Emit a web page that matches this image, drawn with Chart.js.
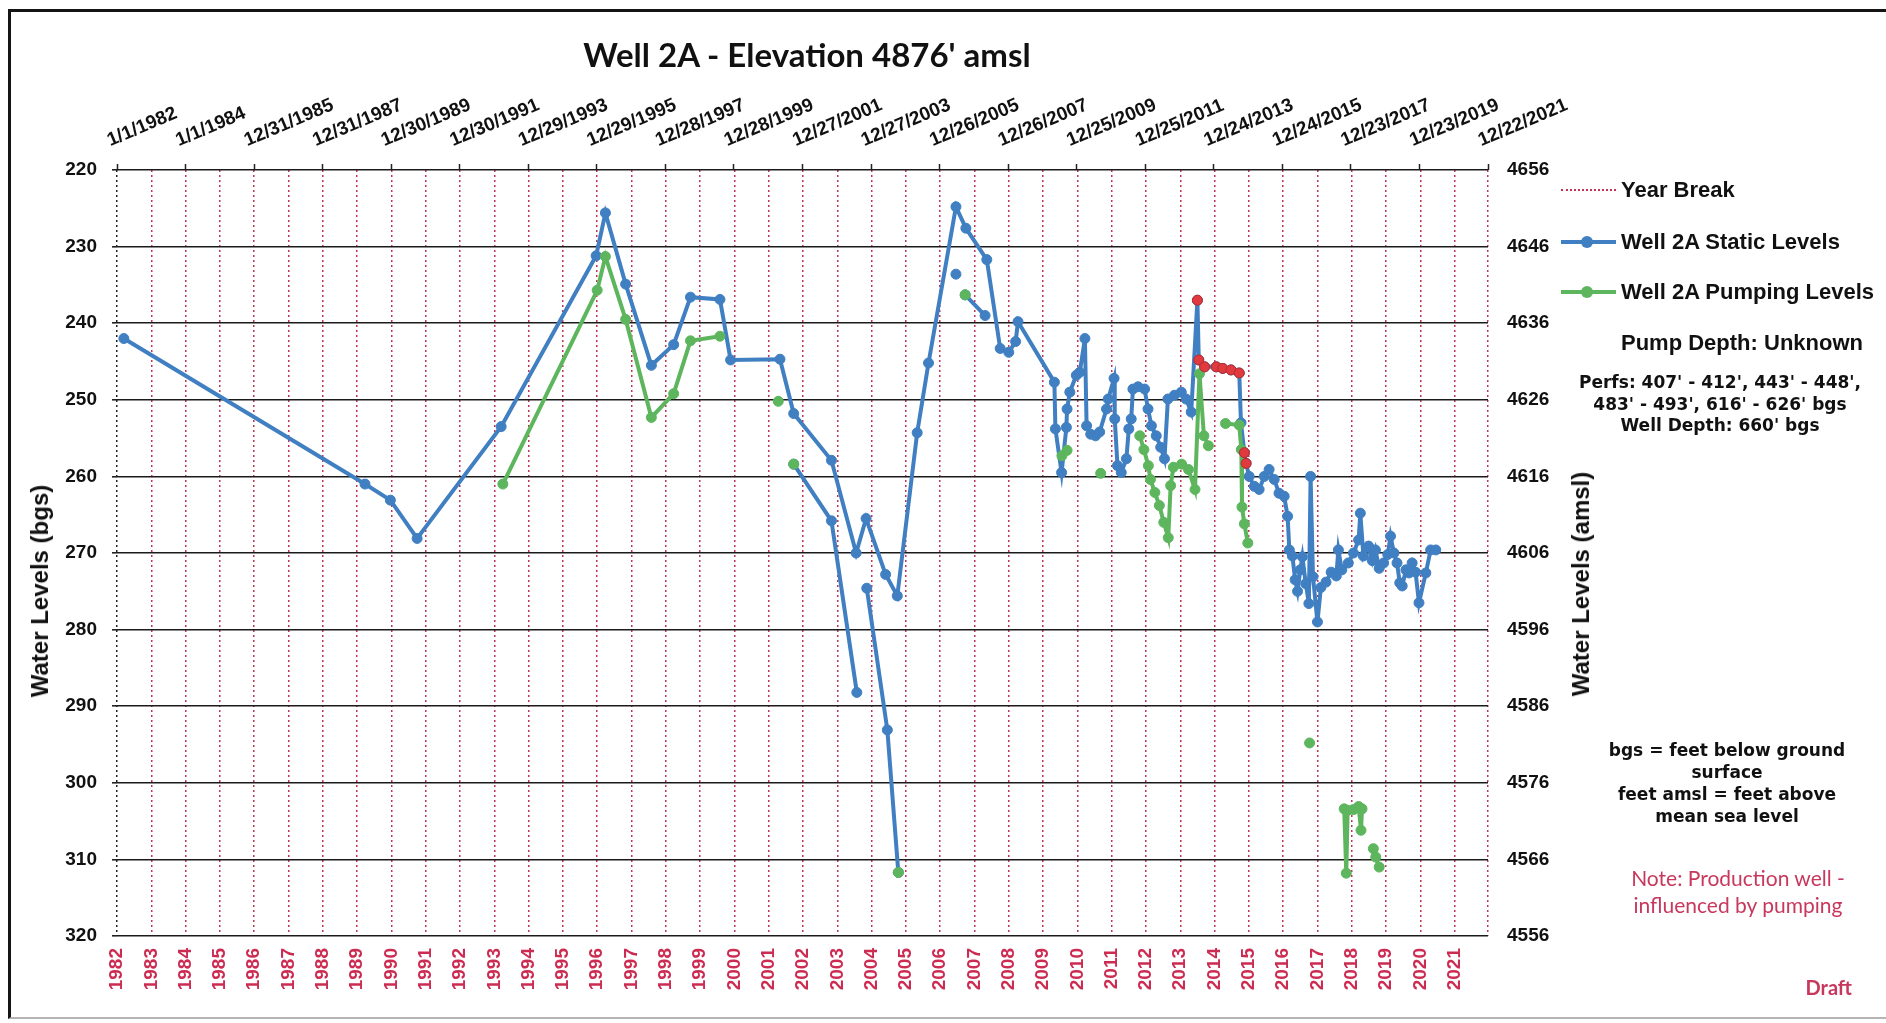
<!DOCTYPE html>
<html>
<head>
<meta charset="utf-8">
<title>Well 2A - Elevation 4876' amsl</title>
<script src="https://cdn.jsdelivr.net/npm/chart.js@4.4.1/dist/chart.umd.min.js"></script>
<style>
  html, body { margin: 0; padding: 0; background: #fff; }
  #wrap { position: relative; width: 1886px; height: 1023px; overflow: hidden; }
  #frame { position: absolute; left: 8px; top: 9px; width: 1900px; height: 1005px;
           border-top: 3px solid #151515; border-left: 3px solid #151515; border-bottom: 2px solid #b5b5b5; }
  canvas { position: absolute; left: 0; top: 0; }
  .t { position: absolute; white-space: nowrap; color: #111;
       font-family: 'Liberation Sans', Arial, sans-serif; font-weight: bold; }
  #title { left: 0; width: 1614px; top: 34px; text-align: center;
           font-family: Lato, 'Open Sans', sans-serif; font-size: 33px; line-height: 40px; }
  .vt { font-size: 24px; line-height: 28px; transform: translate(-50%, -50%) rotate(-90deg); }
  .row { position: absolute; left: 1561px; height: 30px; display: flex; align-items: center;
         font-family: 'Liberation Sans', Arial, sans-serif; font-weight: bold; font-size: 22px; color: #111; white-space: nowrap; }
  .samp { position: relative; width: 55px; height: 30px; margin-right: 5px; }
  .samp .dl { position: absolute; left: 0; right: 0; top: 14px; border-top: 2px dotted #c23355; }
  .samp .ln { position: absolute; left: 0; right: 0; top: 13px; height: 4px; }
  .samp .pt { position: absolute; left: 20px; top: 9px; width: 12px; height: 12px; border-radius: 50%; }
  .blk { text-align: center; }
  .heavy { font-family: 'DejaVu Sans', sans-serif; font-size: 17px; }
  .note { font-family: Lato, sans-serif; font-weight: normal; color: #c8375c; }
</style>
</head>
<body>
<div id="wrap">
  <div id="frame"></div>
  <canvas id="chart" width="1886" height="1023"></canvas>

  <div id="title" class="t">Well 2A - Elevation 4876' amsl</div>
  <div class="t vt" style="left:40px; top:591px;">Water Levels (bgs)</div>
  <div class="t vt" style="left:1581px; top:584px;">Water Levels (amsl)</div>

  <div class="row" style="top:175px;"><span class="samp"><i class="dl"></i></span>Year Break</div>
  <div class="row" style="top:227px;"><span class="samp"><i class="ln" style="background:#3f7fc2"></i><i class="pt" style="background:#3f7fc2"></i></span>Well 2A Static Levels</div>
  <div class="row" style="top:277px;"><span class="samp"><i class="ln" style="background:#5db65d"></i><i class="pt" style="background:#5db65d"></i></span>Well 2A Pumping Levels</div>

  <div class="t blk" style="left:1592px; width:300px; top:330px; font-size:22px; line-height:26px;">Pump Depth: Unknown</div>
  <div class="t blk heavy" style="left:1570px; width:300px; top:372px; line-height:21.5px;">Perfs: 407' - 412', 443' - 448',<br>483' - 493', 616' - 626' bgs<br>Well Depth: 660' bgs</div>
  <div class="t blk heavy" style="left:1577px; width:300px; top:739px; line-height:22px;">bgs = feet below ground<br>surface<br>feet amsl = feet above<br>mean sea level</div>
  <div class="t blk note" style="left:1588px; width:300px; top:864px; font-size:21px; line-height:27px;">Note: Production well -<br>influenced by pumping</div>
  <div class="t note" style="right:34px; top:974px; font-size:20px; line-height:26px; font-weight:bold;">Draft</div>
</div>

<script>
// top axis: Excel date axis, one label every 730 days
const topTickLabels = ['1/1/1982', '1/1/1984', '12/31/1985', '12/31/1987', '12/30/1989', '12/30/1991',
  '12/29/1993', '12/29/1995', '12/28/1997', '12/28/1999', '12/27/2001', '12/27/2003', '12/26/2005',
  '12/26/2007', '12/25/2009', '12/25/2011', '12/24/2013', '12/24/2015', '12/23/2017', '12/23/2019', '12/22/2021'];

// bottom axis: year break lines
const yearBreaks = [1982, 1983, 1984, 1985, 1986, 1987, 1988, 1989, 1990, 1991, 1992, 1993, 1994, 1995,
  1996, 1997, 1998, 1999, 2000, 2001, 2002, 2003, 2004, 2005, 2006, 2007, 2008, 2009, 2010, 2011,
  2012, 2013, 2014, 2015, 2016, 2017, 2018, 2019, 2020, 2021];

const depthTicks = [220, 230, 240, 250, 260, 270, 280, 290, 300, 310, 320];
const groundElevation = 4876;

// static levels (ft bgs), dates as decimal years
const staticDates = [
  1982.2, 1989.23, 1989.97, 1990.75, 1993.2, 1995.97, 1996.24, 1996.83, 1997.58, 1998.23, 1998.72, 1999.58,
  1999.89, 2001.33, 2001.73, 2002.83, 2003.55, 2003.84, 2004.41, 2004.75, 2005.33, 2005.66,
  2006.46, 2006.75, 2007.36, 2007.75, 2008.0, 2008.2, 2008.27,
  2009.33, 2009.36, 2009.54, 2009.68, 2009.7, 2009.78, 2009.97, 2010.07, 2010.22, 2010.27,
  2010.39, 2010.53, 2010.65, 2010.85, 2010.9, 2011.07, 2011.09, 2011.17, 2011.28, 2011.43,
  2011.5, 2011.57, 2011.62, 2011.77, 2011.96, 2012.06, 2012.16, 2012.3, 2012.43, 2012.54,
  2012.64, 2012.83, 2013.03, 2013.17, 2013.32,
  2013.5, 2013.54, 2013.71, 2014.05, 2014.24, 2014.48, 2014.72, 2014.77, 2014.87, 2014.92,
  2015.01, 2015.16, 2015.3, 2015.45, 2015.59, 2015.74, 2015.88, 2016.03, 2016.13, 2016.18,
  2016.27, 2016.35, 2016.42, 2016.5, 2016.56, 2016.66, 2016.75, 2016.8, 2016.87, 2017.0,
  2017.1, 2017.25, 2017.4, 2017.55, 2017.61, 2017.71, 2017.9, 2018.05, 2018.2, 2018.25,
  2018.34, 2018.49, 2018.6, 2018.69, 2018.8, 2018.93, 2019.05, 2019.13, 2019.23, 2019.32,
  2019.4, 2019.47, 2019.58, 2019.67, 2019.76, 2019.86, 2019.96, 2020.16, 2020.3, 2020.45
];
const staticLevels = [
  242.0, 261.0, 263.1, 268.1, 253.5, 231.2, 225.6, 234.9, 245.5, 242.8, 236.6, 236.9,
  244.8, 244.7, 251.8, 257.9, 270.0, 265.5, 272.8, 275.6, 254.3, 245.2,
  224.8, 227.6, 231.7, 243.3, 243.8, 242.4, 239.8,
  247.7, 253.8, 259.5, 253.6, 251.2, 249.0, 246.8, 246.4, 242.0, 253.4,
  254.5, 254.7, 254.2, 251.2, 249.9, 247.2, 252.5, 258.6, 259.5, 257.7,
  253.8, 252.5, 248.6, 248.3, 248.6, 251.2, 253.4, 254.7, 256.2, 257.7,
  249.9, 249.4, 249.0, 249.9, 251.6,
  237.0, 244.8, 245.7, 245.7, 245.9, 246.1, 246.5, 253.0, 256.9, 258.3,
  260.0, 261.3, 261.7, 260.0, 259.1, 260.4, 262.2, 262.6, 265.2, 269.6,
  270.4, 273.5, 275.0, 272.2, 270.5, 274.0, 276.6, 260.0, 273.1, 279.0,
  274.5, 273.8, 272.5, 273.0, 269.6, 272.2, 271.3, 270.0, 268.3, 264.8,
  270.4, 269.1, 271.0, 269.6, 272.0, 271.3, 270.2, 267.8, 270.0, 271.3,
  273.9, 274.3, 272.2, 272.6, 271.3, 272.5, 276.5, 272.6, 269.6, 269.6
];

// extra static readings plotted as separate short runs (null = break)
const staticRunDates  = [2001.73, 2002.83, 2003.57, null, 2003.86, 2004.46, 2004.78, null, 2006.46, null, 2006.73, 2007.31];
const staticRunLevels = [258.4,   265.8,   288.2,   null, 274.6,   293.1,   311.7,   null, 233.6,   null, 236.3,   239.0];

// static readings shown in red
const flaggedDates  = [2013.5, 2013.54, 2013.71, 2014.05, 2014.24, 2014.48, 2014.72, 2014.87, 2014.92];
const flaggedLevels = [237.0,  244.8,   245.7,   245.7,   245.9,   246.1,   246.5,   256.9,   258.3];

// pumping levels (ft bgs), null = break in line
const pumpingDates = [
  1993.25, 1996.0, 1996.24, 1996.83, 1997.58, 1998.23, 1998.72, 1999.58, null,
  2001.28, null, 2001.73, null, 2004.78, null, 2006.73, null,
  2009.55, 2009.7, null, 2010.68, null,
  2011.82, 2011.94, 2012.07, 2012.13, 2012.26, 2012.39, 2012.52, 2012.65, 2012.72, 2012.8,
  2013.04, 2013.24, 2013.43, 2013.56, 2013.69, 2013.82, null,
  2014.32, 2014.72, 2014.78, 2014.8, 2014.87, 2014.97, null,
  2016.77, null,
  2017.78, 2017.84, 2017.88, 2018.05, 2018.2, 2018.27, 2018.3, null,
  2018.63, 2018.7, 2018.8
];
const pumpingLevels = [
  261.0, 235.7, 231.3, 239.5, 252.3, 249.2, 242.3, 241.7, null,
  250.2, null, 258.4, null, 311.7, null, 236.3, null,
  257.3, 256.6, null, 259.6, null,
  254.7, 256.5, 258.6, 260.4, 262.1, 263.8, 266.0, 268.0, 261.2, 258.8,
  258.4, 259.1, 261.7, 246.6, 254.7, 256.0, null,
  253.1, 253.3, 256.5, 264.0, 266.2, 268.7, null,
  294.8, null,
  303.4, 311.8, 303.6, 303.5, 303.1, 306.2, 303.4, null,
  308.6, 309.7, 311.0
];

const W = 1886, H = 1023;
const plotLeft = 117, plotTop = 170, plotRight = 1488, plotBottom = 936;

const BLUE = '#3f7fc2';
const GREEN = '#5db65d';
const RED = '#e0393e';
const BREAK_RED = '#c23355';
const FONT = "'Liberation Sans', Arial, sans-serif";

function toYear(label) {
  const [m, d, y] = label.split('/').map(Number);
  const start = Date.UTC(y, 0, 1);
  const next = Date.UTC(y + 1, 0, 1);
  return y + (Date.UTC(y, m - 1, d) - start) / (next - start);
}

function zip(xs, ys) {
  return xs.map((x, i) => ({ x: x, y: ys[i] }));
}

const topTickValues = topTickLabels.map(toYear);
const xMin = topTickValues[0];
const xMax = topTickValues[topTickValues.length - 1];
const depthMin = depthTicks[0];
const depthMax = depthTicks[depthTicks.length - 1];

Chart.defaults.font.family = FONT;

const lineStyle = (color) => ({
  showLine: true,
  borderColor: color,
  backgroundColor: color,
  borderWidth: 4,
  pointRadius: 5,
  pointBorderWidth: 1,
  pointBackgroundColor: color,
  pointBorderColor: color,
  tension: 0,
  spanGaps: false,
  xAxisID: 'x',
  yAxisID: 'y',
});

new Chart(document.getElementById('chart'), {
  type: 'scatter',
  data: {
    datasets: [
      {
        label: 'Flagged',
        data: zip(flaggedDates, flaggedLevels),
        showLine: false,
        pointRadius: 5,
        pointBackgroundColor: RED,
        pointBorderColor: '#b52a30',
        xAxisID: 'x', yAxisID: 'y',
        order: 0,
      },
      { label: 'Well 2A Pumping Levels', data: zip(pumpingDates, pumpingLevels), ...lineStyle(GREEN), order: 1 },
      { label: 'Static runs', data: zip(staticRunDates, staticRunLevels), ...lineStyle(BLUE), order: 2 },
      { label: 'Well 2A Static Levels', data: zip(staticDates, staticLevels), ...lineStyle(BLUE), order: 3 },
    ]
  },
  options: {
    responsive: false,
    maintainAspectRatio: false,
    animation: false,
    devicePixelRatio: 1,
    events: [],
    layout: { padding: 0 },
    plugins: {
      legend: { display: false },
      tooltip: { enabled: false },
      title: { display: false },
    },
    scales: {
      x: {
        type: 'linear',
        position: 'bottom',
        min: xMin,
        max: xMax,
        afterBuildTicks: (s) => { s.ticks = yearBreaks.map(v => ({ value: v })).concat([{ value: xMax }]); },
        afterFit: (s) => { s.height = H - plotBottom; },
        ticks: {
          autoSkip: false,
          minRotation: 90,
          maxRotation: 90,
          padding: 12,
          color: '#cc2c52',
          font: { size: 19, weight: 'bold' },
          callback: (v) => (yearBreaks.includes(v) ? String(v) : ''),
        },
        grid: {
          color: (ctx) => (ctx.tick && ctx.tick.value === xMin ? '#222' : BREAK_RED),
          lineWidth: 1.5,
          drawTicks: false,
        },
        border: { display: false, dash: [2, 3] },
      },
      x2: {
        type: 'linear',
        position: 'top',
        min: xMin,
        max: xMax,
        afterBuildTicks: (s) => { s.ticks = topTickValues.map(v => ({ value: v })); },
        afterFit: (s) => { s.height = plotTop; },
        ticks: {
          autoSkip: false,
          minRotation: 23,
          maxRotation: 23,
          padding: 12,
          color: '#111',
          font: { size: 19, weight: 'bold' },
          callback: (v, i) => topTickLabels[i],
        },
        grid: { drawOnChartArea: false, drawTicks: true, tickLength: 6, tickColor: '#222', tickWidth: 1.5 },
        border: { display: false },
      },
      y: {
        type: 'linear',
        position: 'left',
        reverse: true,
        min: depthMin,
        max: depthMax,
        afterBuildTicks: (s) => { s.ticks = depthTicks.map(v => ({ value: v })); },
        afterFit: (s) => { s.width = plotLeft; },
        ticks: { padding: 15, color: '#111', font: { size: 19, weight: 'bold' }, callback: (v) => String(v) },
        grid: { color: '#1b1b1b', lineWidth: 1.6, tickLength: 5, tickColor: '#222' },
        border: { display: false },
      },
      y2: {
        type: 'linear',
        position: 'right',
        min: groundElevation - depthMax,
        max: groundElevation - depthMin,
        afterBuildTicks: (s) => { s.ticks = depthTicks.map(v => ({ value: groundElevation - v })); },
        afterFit: (s) => { s.width = W - plotRight; },
        ticks: { padding: 19, color: '#111', font: { size: 19, weight: 'bold' }, callback: (v) => String(v) },
        grid: { drawOnChartArea: false, drawTicks: false },
        border: { display: false },
      },
    },
  },
});
</script>
</body>
</html>
